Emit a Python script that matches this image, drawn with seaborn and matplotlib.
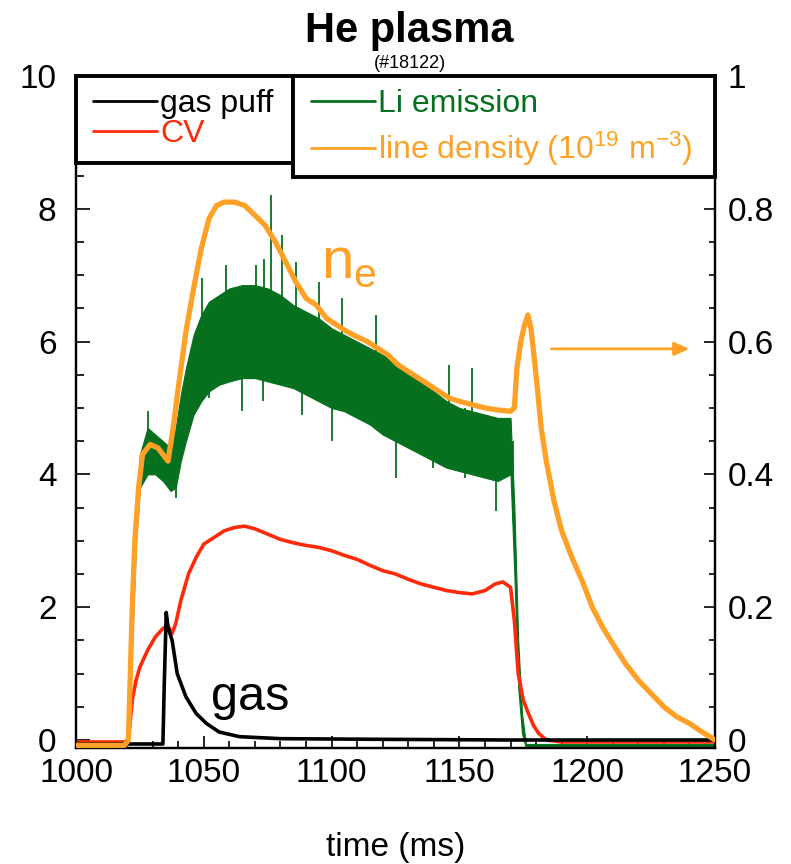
import matplotlib
matplotlib.use("Agg")
import matplotlib.pyplot as plt
import seaborn as sns
import pandas as pd
from matplotlib.lines import Line2D
from matplotlib.patches import Rectangle
from matplotlib.ticker import MultipleLocator, FuncFormatter

# ---------------- data ----------------
# gas puff (left axis, a.u.)
gas_t = [1000, 1034, 1034.5, 1035.3, 1036, 1037.6, 1039.6, 1043, 1047, 1051, 1056, 1064, 1080, 1120, 1170, 1250]
gas_v = [-0.06, -0.06, 0.8, 1.92, 1.7, 1.5, 1.0, 0.65, 0.4, 0.25, 0.12, 0.05, 0.02, 0.01, 0.0, 0.0]

# CV (left axis, a.u.)
cv_t = [1000, 1019, 1020.5, 1022, 1023.5, 1025, 1028, 1031, 1034, 1036, 1037.5, 1039, 1041, 1044, 1047,
        1050, 1054, 1058, 1062, 1066, 1070, 1075, 1080, 1085, 1090, 1095, 1100, 1105, 1110, 1115, 1120,
        1125, 1130, 1135, 1140, 1145, 1150, 1155, 1160, 1164, 1167, 1170, 1171.5, 1173, 1175, 1177, 1179,
        1181, 1184, 1190, 1250]
cv_v = [-0.03, -0.03, 0.0, 0.6, 0.9, 1.1, 1.35, 1.55, 1.68, 1.72, 1.6, 1.75, 2.1, 2.5, 2.75,
        2.95, 3.05, 3.15, 3.2, 3.22, 3.18, 3.1, 3.02, 2.97, 2.93, 2.9, 2.85, 2.78, 2.72, 2.63, 2.55,
        2.5, 2.42, 2.35, 2.3, 2.25, 2.22, 2.2, 2.25, 2.35, 2.38, 2.3, 1.8, 1.0, 0.6, 0.4, 0.22,
        0.1, 0.0, -0.03, -0.03]

# Li emission: dense core band (left axis, a.u.)
li_t = [1000, 1019, 1020.5, 1022, 1023.5, 1025, 1028, 1031, 1034, 1037, 1039, 1041, 1043, 1046, 1049,
        1052, 1056, 1060, 1065, 1070, 1075, 1080, 1085, 1090, 1095, 1100, 1105, 1110, 1115, 1120, 1125,
        1130, 1135, 1140, 1145, 1150, 1155, 1160, 1165, 1170, 1171.5, 1173, 1174.5, 1176, 1250]
li_lo = [-0.12, -0.12, 0.0, 1.5, 3.0, 3.8, 4.0, 4.0, 3.9, 3.75, 3.8, 4.2, 4.5, 4.9, 5.1,
         5.25, 5.35, 5.4, 5.45, 5.45, 5.4, 5.35, 5.3, 5.2, 5.1, 5.0, 4.95, 4.85, 4.75, 4.6, 4.5,
         4.4, 4.3, 4.2, 4.1, 4.05, 4.0, 3.95, 3.9, 4.0, 2.5, 0.8, 0.1, -0.12, -0.12]
li_hi = [-0.06, -0.06, 0.1, 2.2, 3.5, 4.3, 4.7, 4.6, 4.5, 4.4, 4.7, 5.2, 5.6, 6.1, 6.4,
         6.6, 6.7, 6.8, 6.85, 6.85, 6.8, 6.7, 6.55, 6.45, 6.35, 6.2, 6.1, 6.0, 5.9, 5.8, 5.7,
         5.5, 5.4, 5.25, 5.1, 5.0, 4.95, 4.9, 4.85, 4.85, 3.5, 1.5, 0.4, -0.06, -0.06]
# Li emission: isolated spikes beyond the core band
li_spike_t = [1028.2, 1039.0, 1049.4, 1052.0, 1058.8, 1065.0, 1070.5, 1073.0, 1073.6, 1076.4, 1080.7,
              1086.0, 1088.6, 1095.0, 1100.0, 1104.0, 1117.5, 1125.0, 1139.5, 1146.0, 1152.0, 1154.8,
              1164.5, 1171.0]
li_spike_lo = [4.3, 3.65, 5.6, 5.15, 5.6, 4.95, 5.6, 5.1, 5.6, 5.5, 5.6, 5.4, 4.9, 5.3, 4.5, 5.2, 5.0,
               3.95, 4.1, 4.6, 3.95, 4.5, 3.45, 3.3]
li_spike_hi = [4.95, 4.3, 6.95, 6.0, 7.15, 6.0, 7.15, 6.0, 7.25, 8.2, 7.6, 7.2, 6.0, 6.9, 5.5, 6.65,
               6.4, 5.0, 5.0, 5.65, 5.0, 5.6, 4.5, 4.5]

# line density (right axis, 10^19 m^-3)
ne_t = [1000, 1019, 1020.5, 1022, 1023, 1024.5, 1026, 1029, 1032, 1034, 1036, 1038, 1040, 1043, 1046,
        1049, 1052, 1055, 1058, 1062, 1066, 1070, 1074, 1078, 1082, 1086, 1090, 1094, 1098, 1102, 1106,
        1110, 1114, 1118, 1122, 1126, 1130, 1134, 1138, 1142, 1146, 1150, 1155, 1160, 1165, 1170, 1171.5,
        1172.5, 1174, 1175.5, 1176.8, 1178, 1179, 1180.5, 1182, 1184, 1187, 1190, 1194, 1198, 1202, 1206,
        1210, 1215, 1220, 1225, 1230, 1235, 1240, 1245, 1250]
ne_v = [-0.008, -0.008, 0.0, 0.2, 0.3, 0.38, 0.43, 0.445, 0.44, 0.43, 0.42, 0.47, 0.53, 0.615, 0.68,
        0.74, 0.785, 0.805, 0.81, 0.81, 0.805, 0.79, 0.775, 0.75, 0.72, 0.69, 0.665, 0.655, 0.635, 0.625, 0.615,
        0.607, 0.6, 0.59, 0.58, 0.565, 0.555, 0.545, 0.535, 0.525, 0.515, 0.51, 0.505, 0.5, 0.497, 0.495, 0.5,
        0.56, 0.6, 0.625, 0.64, 0.62, 0.585, 0.53, 0.47, 0.42, 0.36, 0.315, 0.275, 0.24, 0.2, 0.17,
        0.145, 0.115, 0.09, 0.07, 0.05, 0.035, 0.025, 0.012, 0.0]

left_ticks = [0, 2, 4, 6, 8, 10]
right_ticks = [0, 0.2, 0.4, 0.6, 0.8, 1.0]
x_ticks = [1000, 1050, 1100, 1150, 1200, 1250]

title = "He plasma"
subtitle = "(#18122)"
labels = ["gas puff", "CV", "Li emission", r"line density (10$^{\mathregular{19}}$ m$^{\mathregular{-3}}$)"]

# ---------------- style ----------------
sns.set_style("ticks")
plt.rcParams["font.family"] = ["Liberation Sans", "DejaVu Sans"]
plt.rcParams["mathtext.fontset"] = "custom"
plt.rcParams["mathtext.rm"] = "Liberation Sans"
plt.rcParams["mathtext.it"] = "Liberation Sans:italic"
plt.rcParams["mathtext.bf"] = "Liberation Sans:bold"
plt.rcParams["text.color"] = "black"
plt.rcParams["axes.labelcolor"] = "black"
plt.rcParams["xtick.color"] = "black"
plt.rcParams["ytick.color"] = "black"

BLACK = "#000000"
RED = "#ff2a0a"
GREEN = "#07701f"
ORANGE = "#ffa126"

fig = plt.figure(figsize=(7.91, 8.64), dpi=100)
ax = fig.add_axes([0.0961, 0.1343, 0.8078, 0.7778])
ax2 = ax.twinx()

# Li emission band + spikes
ax.fill_between(li_t, li_lo, li_hi, color=GREEN, lw=0.8, edgecolor=GREEN, zorder=2)
ax.vlines(li_spike_t, li_spike_lo, li_spike_hi, color=GREEN, lw=1.3, zorder=2)

df_cv = pd.DataFrame({"t": cv_t, "v": cv_v})
df_gas = pd.DataFrame({"t": gas_t, "v": gas_v})
df_ne = pd.DataFrame({"t": ne_t, "v": ne_v})
sns.lineplot(data=df_cv, x="t", y="v", ax=ax, color=RED, lw=2.6, zorder=3)
sns.lineplot(data=df_gas, x="t", y="v", ax=ax, color=BLACK, lw=2.6, zorder=4)
sns.lineplot(data=df_ne, x="t", y="v", ax=ax2, color=ORANGE, lw=3.8, zorder=3)

# axes ranges / ticks
ax.set_xlim(1000, 1250)
ax.set_ylim(-0.12, 10)
ax2.set_ylim(-0.012, 1.0)
ax.set_xticks(x_ticks)
ax.set_yticks(left_ticks)
ax2.set_yticks(right_ticks)
ax.yaxis.set_minor_locator(MultipleLocator(0.5))
ax.xaxis.set_minor_locator(MultipleLocator(10))
ax2.yaxis.set_minor_locator(MultipleLocator(0.05))
ax.yaxis.set_major_formatter(FuncFormatter(lambda v, p: f"{v:g}"))
ax2.yaxis.set_major_formatter(FuncFormatter(lambda v, p: f"{v:g}"))

ax.tick_params(axis="both", which="both", direction="in", labelsize=24, width=1.2, colors="black")
ax.tick_params(axis="y", which="major", length=10, pad=14)
ax.tick_params(axis="y", which="minor", length=6)
ax.tick_params(axis="x", which="major", length=9, pad=7)
ax.tick_params(axis="x", which="minor", length=5)
ax.tick_params(axis="y", right=False)
ax2.tick_params(axis="y", which="both", direction="in", labelsize=24, width=1.2, colors="black")
ax2.tick_params(axis="y", which="major", length=8, pad=9)
ax2.tick_params(axis="y", which="minor", length=4)

for a in (ax, ax2):
    for s in a.spines.values():
        s.set_linewidth(1.6)
        s.set_color("black")

ax.set_xlabel("time (ms)", fontsize=24, labelpad=31)
ax.set_ylabel("")
ax2.set_ylabel("")

# annotations
ax.text(1096, 6.96, r"n$_{\mathregular{e}}$", color=ORANGE, fontsize=42, ha="left", va="baseline", zorder=6)
ax.text(1053, 0.45, "gas", color=BLACK, fontsize=35, ha="left", va="baseline", zorder=6)
ax2.annotate("", xy=(1240, 0.589), xytext=(1186, 0.589),
             arrowprops=dict(arrowstyle="-|>,head_length=0.9,head_width=0.4", color=ORANGE, lw=2.0,
                             shrinkA=0, shrinkB=0), zorder=6)

# legend boxes
box1 = Rectangle((0.0, 0.8705), 0.3396, 0.1295, transform=ax2.transAxes, facecolor="white",
                 edgecolor="black", lw=2.8, zorder=10, clip_on=False)
box2 = Rectangle((0.3396, 0.8497), 0.6604, 0.1503, transform=ax2.transAxes, facecolor="white",
                 edgecolor="black", lw=2.8, zorder=10, clip_on=False)
ax2.add_patch(box1)
ax2.add_patch(box2)

h1 = [Line2D([], [], color=BLACK, lw=2), Line2D([], [], color=RED, lw=2)]
h2 = [Line2D([], [], color=GREEN, lw=2), Line2D([], [], color=ORANGE, lw=2)]
leg1 = ax2.legend(h1, labels[:2], loc="upper left", bbox_to_anchor=(0.006, 1.0), bbox_transform=ax2.transAxes,
                  frameon=False, fontsize=23, handlelength=2.0, handletextpad=0.1, labelspacing=-0.02,
                  borderaxespad=0.0, borderpad=0.42, labelcolor="linecolor")
leg1.set_zorder(11)
ax2.add_artist(leg1)
leg2 = ax2.legend(h2, labels[2:], loc="upper left", bbox_to_anchor=(0.347, 1.0), bbox_transform=ax2.transAxes,
                  frameon=False, fontsize=23, handlelength=2.0, handletextpad=0.1, labelspacing=0.33,
                  borderaxespad=0.0, borderpad=0.42, labelcolor="linecolor")
leg2.set_zorder(11)

# titles
fig.text(409 / 791, 1 - 31 / 864, title, fontsize=30, fontweight="bold", ha="center", va="center")
fig.text(410 / 791, 1 - 63 / 864, subtitle, fontsize=13, ha="center", va="center")

fig.savefig("out.png", dpi=100)
